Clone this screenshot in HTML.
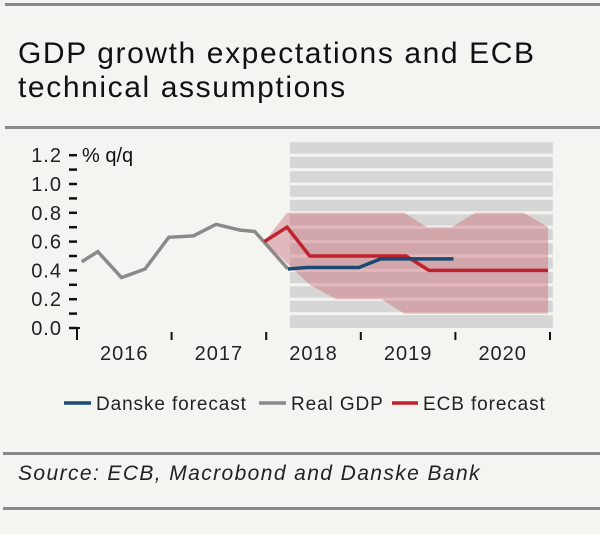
<!DOCTYPE html>
<html><head><meta charset="utf-8"><style>
body{margin:0;background:#f4f4f1;width:600px;height:529px;overflow:hidden;font-family:"Liberation Sans",sans-serif;}
svg text{font-family:"Liberation Sans",sans-serif;}
</style></head><body>
<svg id="c" width="600" height="529">
<rect x="0" y="0" width="600" height="529" fill="#f4f4f1"/>
<rect x="5" y="3" width="595" height="3" fill="#888"/>
<text x="18" y="63" font-size="30" letter-spacing="1.6" fill="#111">GDP growth expectations and ECB</text>
<text x="18" y="97" font-size="30" letter-spacing="1.6" fill="#111">technical assumptions</text>
<rect x="5" y="126" width="595" height="3" fill="#888"/>
<g id="plot"></g>
<g>
<line x1="64" y1="403" x2="91" y2="403" stroke="#1a4a73" stroke-width="3.5"/>
<text x="96" y="410" font-size="19" letter-spacing="0.9" fill="#222">Danske forecast</text>
<line x1="259" y1="403" x2="286" y2="403" stroke="#8a8a8a" stroke-width="3.5"/>
<text x="291" y="410" font-size="19" letter-spacing="0.9" fill="#222">Real GDP</text>
<line x1="392" y1="403" x2="418" y2="403" stroke="#c0222e" stroke-width="3.5"/>
<text x="423" y="410" font-size="19" letter-spacing="0.9" fill="#222">ECB forecast</text>
</g>
<rect x="3" y="452" width="597" height="3" fill="#888"/>
<text x="18" y="480" font-size="21" letter-spacing="1.4" font-style="italic" fill="#222">Source: ECB, Macrobond and Danske Bank</text>
<rect x="3" y="507" width="597" height="3" fill="#888"/>
</svg>
<script>
const yTicks=[0.0,0.2,0.4,0.6,0.8,1.0,1.2];
const yearLabels=["2016","2017","2018","2019","2020"];
const gdpT=[2016.05,2016.22,2016.47,2016.72,2016.97,2017.23,2017.47,2017.72,2017.88,2018.23];
const gdpV=[0.46,0.53,0.35,0.41,0.63,0.64,0.72,0.68,0.67,0.41];
const danT=[2018.23,2018.43,2018.98,2019.21,2019.98];
const danV=[0.41,0.42,0.42,0.48,0.48];
const ecbT=[2017.98,2018.22,2018.46,2019.48,2019.72,2020.98];
const ecbV=[0.60,0.70,0.50,0.50,0.40,0.40];
const bandUT=[2017.98,2018.22,2019.46,2019.7,2019.96,2020.21,2020.72,2020.98];
const bandUV=[0.60,0.80,0.80,0.70,0.70,0.80,0.80,0.70];
const bandLT=[2017.98,2018.22,2018.46,2018.74,2019.22,2019.46,2020.98];
const bandLV=[0.60,0.45,0.30,0.20,0.20,0.10,0.10];
const X=t=>77+(t-2016)*94.6, Y=v=>328-v*144;
const ns="http://www.w3.org/2000/svg", g=document.getElementById('plot');
function mk(tag,a){const e=document.createElementNS(ns,tag);for(const k in a)e.setAttribute(k,a[k]);g.appendChild(e);return e;}
let bg=mk('rect',{x:X(2018.25),y:Y(1.29),width:X(2021.03)-X(2018.25),height:Y(0)-Y(1.29),fill:'#d6d6d4'});


for(let v=0.1;v<1.25;v+=0.1){let l=mk('line',{x1:X(2018.25),x2:X(2021.03),y1:Y(v),y2:Y(v),stroke:'#f4f4f1','stroke-width':3});

}
let pts=bandUT.map((t,i)=>X(t)+','+Y(bandUV[i]));
for(let i=bandLT.length-1;i>=0;i--)pts.push(X(bandLT[i])+','+Y(bandLV[i]));
let band=mk('polygon',{points:pts.join(' '),fill:'rgba(205,110,125,0.45)'});


for(let v=0;v<=1.2001;v+=0.1){let t=mk('line',{x1:69,x2:77,y1:Y(v),y2:Y(v),stroke:'#111','stroke-width':2.5});

}
yTicks.forEach(v=>{let t=mk('text',{x:62,y:Y(v)+7,'font-size':20,'letter-spacing':1,'text-anchor':'end',fill:'#222'});t.textContent=v.toFixed(1);

});
let u=mk('text',{x:82,y:Y(1.2)+7,'font-size':20,fill:'#111'});u.textContent='% q/q';


for(let i=0;i<=5;i++){let ln=mk('line',{x1:X(2016+i),x2:X(2016+i),y1:i==0?Y(0):332,y2:340,stroke:'#111','stroke-width':2});

}
mk('line',{x1:X(2016),x2:X(2016)+3,y1:Y(0),y2:Y(0),stroke:'#111','stroke-width':2});
yearLabels.forEach((s,i)=>{let t=mk('text',{x:X(2016.5+i),y:360,'font-size':20,'letter-spacing':1,'text-anchor':'middle',fill:'#222'});t.textContent=s;

});
function line(T,V,c,name){let p=mk('polyline',{points:T.map((t,i)=>X(t)+','+Y(V[i])).join(' '),fill:'none',stroke:c,'stroke-width':3.5,'stroke-linejoin':'miter'});

}
line(gdpT,gdpV,'#8a8a8a','real-gdp-line');
line(ecbT,ecbV,'#c0222e','ecb-forecast-line');
line(danT,danV,'#1a4a73','danske-forecast-line');
</script>
</body></html>
